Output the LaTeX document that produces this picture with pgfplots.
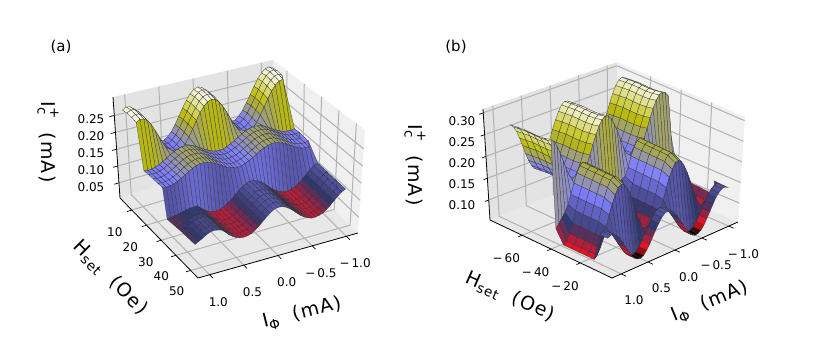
\documentclass[border=0pt]{standalone}
\usepackage{fontspec}
\setmainfont{DejaVu Sans}
\usepackage{pgfplots}
\usetikzlibrary{calc}
\pgfplotsset{compat=1.18}
\pgfplotsset{
 colormap={stern}{rgb=(0,0,0) rgb=(.457,.025,.05) rgb=(.914,.05,.1) rgb=(.9,.075,.15) rgb=(.774,.1,.2) rgb=(.649,.125,.25) rgb=(.525,.15,.3) rgb=(.4,.175,.35) rgb=(.276,.2,.4) rgb=(.151,.225,.45) rgb=(.25,.25,.5) rgb=(.275,.275,.55) rgb=(.3,.3,.6) rgb=(.325,.325,.65) rgb=(.35,.35,.7) rgb=(.375,.375,.75) rgb=(.4,.4,.8) rgb=(.425,.425,.85) rgb=(.45,.45,.9) rgb=(.475,.475,.95) rgb=(.5,.5,1) rgb=(.525,.525,.894) rgb=(.55,.55,.787) rgb=(.575,.575,.681) rgb=(.6,.6,.574) rgb=(.625,.625,.468) rgb=(.65,.65,.362) rgb=(.675,.675,.255) rgb=(.7,.7,.149) rgb=(.725,.725,.043) rgb=(.75,.75,.057) rgb=(.775,.775,.151) rgb=(.8,.8,.245) rgb=(.825,.825,.34) rgb=(.85,.85,.434) rgb=(.875,.875,.528) rgb=(.9,.9,.623) rgb=(.925,.925,.717) rgb=(.95,.95,.811) rgb=(.975,.975,.906) rgb=(1,1,1)},
 mpl/.style={
  anchor=south west, clip=false, colormap name=stern, scaled ticks=false,
  major tick length=0pt,
  axis line style={draw=none},
  tick label style={font=\fontsize{12}{13}\selectfont, anchor=center},
  xtick={-1,-.5,0,.5,1}, xticklabels={−\,1.0,−\,0.5,0.0,0.5,1.0},
 },
 srf/.style={surf, shader=faceted, z buffer=sort, line width=.25pt, faceted color=black!80, mesh/cols=41},
}
\newcommand{\lab}{\fontsize{19}{21}\selectfont\addfontfeature{LetterSpace=6}}
\newcommand{\sub}[1]{\raisebox{-4pt}{\fontsize{13.5}{14}\selectfont #1}}
\newcommand{\icp}{I\rlap{\raisebox{-4pt}{\fontsize{13.5}{14}\selectfont c}}\raisebox{8.5pt}{\fontsize{13.5}{14}\selectfont +}}
% panes, grid lines and tick strokes of one box, with a slight perspective
% #1 x fractions, #2 y fractions, #3 z fractions
\newcommand{\panes}[3]{%
 \fill[black!11] (L)--(B)--(TB)--(TL)--cycle;
 \fill[black!6] (B)--(R)--(TR)--(TB)--cycle;
 \fill[black!9] (L)--(F)--(R)--(B)--cycle;
 \foreach \f in {#1}{
  \coordinate (p) at ($(F)!\f!(R)$); \coordinate (q) at ($(L)!\f!(B)$); \coordinate (r) at ($(TL)!\f!(TB)$);
  \draw[black!30, line width=1pt] (p)--(q)--(r);
  \draw[black, line width=.7pt] (p)--($(p)!-.04!(q)$);}
 \foreach \f in {#2}{
  \coordinate (p) at ($(L)!\f!(F)$); \coordinate (q) at ($(B)!\f!(R)$); \coordinate (r) at ($(TB)!\f!(TR)$);
  \draw[black!30, line width=1pt] (p)--(q)--(r);
  \draw[black, line width=.7pt] (p)--($(p)!-.03!(q)$);}
 \foreach \f in {#3}{
  \coordinate (p) at ($(L)!\f!(TL)$); \coordinate (q) at ($(B)!\f!(TB)$); \coordinate (r) at ($(R)!\f!(TR)$);
  \draw[black!30, line width=1pt] (p)--(q)--(r);
  \draw[black, line width=.7pt] (p)--($(p)!-.03!(q)$);}
 \draw[black, line width=.8pt] (TL)--(L)--(F)--(R);
}
\begin{document}
\begin{tikzpicture}[x=1pt,y=1pt]
\path (0,0) rectangle (830,340);
\coordinate (L) at (120,142); \coordinate (F) at (198,62); \coordinate (R) at (358,107);
\coordinate (B) at (274,190); \coordinate (TL) at (113,243); \coordinate (TB) at (273,280); \coordinate (TR) at (365,210);
\panes{.0726,.286,.5,.714,.927}{.151,.34,.528,.717,.906}{.15,.317,.483,.65,.817}
\coordinate (L) at (490,120); \coordinate (F) at (612,62); \coordinate (R) at (738,118);
\coordinate (B) at (617,170); \coordinate (TL) at (483,231); \coordinate (TB) at (617,278); \coordinate (TR) at (745,223);
\panes{.0726,.286,.5,.714,.927}{.2625,.501,.74}{.18,.376,.573,.769,.965}
\begin{axis}[mpl, at={(116pt,62pt)},
 x={(-68.4pt,-19.2pt)}, y={(1.547pt,-1.453pt)}, z={(0pt,337pt)},
 xmin=-1.17,xmax=1.17,ymin=2,ymax=55,zmin=.005,zmax=.305,
 point meta min=.032, point meta max=.29,
 ytick={10,20,30,40,50}, yticklabels={10,20,30,40,50}, ztick={.05,.1,.15,.2,.25},
 zticklabels={0.05,0.10,0.15,0.20,0.25},
 xticklabel style={xshift=8.7pt,yshift=-27pt},
 yticklabel style={xshift=-13.5pt,yshift=-20pt},
 zticklabel style={xshift=-25pt,yshift=-1pt},
]
\addplot3[srf] table[x expr={-1.1+0.055*mod(\coordindex,41)}, y expr={3+3*floor(\coordindex/41)+2*(floor(\coordindex/41)>=4)+3*(floor(\coordindex/41)>=10)}, z=z] {
z
.275
.281
.279
.270
.256
.236
.215
.194
.175
.161
.152
.151
.158
.170
.188
.209
.231
.251
.267
.277
.281
.277
.267
.251
.231
.209
.188
.170
.158
.151
.152
.161
.175
.194
.215
.236
.256
.270
.279
.281
.275
.279
.285
.283
.274
.260
.240
.219
.198
.179
.165
.156
.155
.162
.174
.192
.213
.235
.255
.271
.281
.285
.281
.271
.255
.235
.213
.192
.174
.162
.155
.156
.165
.179
.198
.219
.240
.260
.274
.283
.285
.279
.279
.285
.283
.274
.260
.240
.219
.198
.179
.165
.156
.155
.162
.174
.192
.213
.235
.255
.271
.281
.285
.281
.271
.255
.235
.213
.192
.174
.162
.155
.156
.165
.179
.198
.219
.240
.260
.274
.283
.285
.279
.277
.283
.281
.272
.258
.238
.217
.196
.177
.163
.154
.153
.160
.172
.190
.211
.233
.253
.269
.279
.283
.279
.269
.253
.233
.211
.190
.172
.160
.153
.154
.163
.177
.196
.217
.238
.258
.272
.281
.283
.277
.155
.153
.154
.156
.161
.167
.174
.181
.187
.192
.195
.195
.193
.189
.183
.176
.169
.163
.158
.154
.153
.154
.158
.163
.169
.176
.183
.189
.193
.195
.195
.192
.187
.181
.174
.167
.161
.156
.154
.153
.155
.157
.155
.156
.158
.163
.169
.176
.183
.189
.194
.197
.197
.195
.191
.185
.178
.171
.165
.160
.156
.155
.156
.160
.165
.171
.178
.185
.191
.195
.197
.197
.194
.189
.183
.176
.169
.163
.158
.156
.155
.157
.157
.155
.156
.158
.163
.169
.176
.183
.189
.194
.197
.197
.195
.191
.185
.178
.171
.165
.160
.156
.155
.156
.160
.165
.171
.178
.185
.191
.195
.197
.197
.194
.189
.183
.176
.169
.163
.158
.156
.155
.157
.157
.155
.156
.158
.163
.169
.176
.183
.189
.194
.197
.197
.195
.191
.185
.178
.171
.165
.160
.156
.155
.156
.160
.165
.171
.178
.185
.191
.195
.197
.197
.194
.189
.183
.176
.169
.163
.158
.156
.155
.157
.157
.155
.156
.158
.163
.169
.176
.183
.189
.194
.197
.197
.195
.191
.185
.178
.171
.165
.160
.156
.155
.156
.160
.165
.171
.178
.185
.191
.195
.197
.197
.194
.189
.183
.176
.169
.163
.158
.156
.155
.157
.118
.113
.104
.094
.083
.074
.066
.062
.060
.060
.064
.070
.078
.088
.099
.108
.115
.119
.120
.117
.110
.101
.091
.080
.072
.065
.061
.060
.061
.065
.072
.080
.091
.090
.090
.088
.085
.082
.080
.078
.076
.118
.113
.104
.094
.083
.074
.066
.062
.060
.060
.064
.070
.078
.088
.099
.108
.115
.119
.120
.117
.110
.101
.091
.080
.072
.065
.061
.060
.061
.065
.072
.080
.091
.095
.097
.097
.094
.090
.086
.082
.078
.118
.113
.104
.094
.083
.074
.066
.062
.060
.060
.064
.070
.078
.088
.099
.108
.115
.119
.120
.117
.110
.101
.091
.080
.072
.065
.061
.060
.061
.065
.072
.080
.091
.100
.103
.105
.103
.098
.091
.085
.079
.118
.113
.104
.094
.083
.074
.066
.062
.060
.060
.064
.070
.078
.088
.099
.108
.115
.119
.120
.117
.110
.101
.091
.080
.072
.065
.061
.060
.061
.065
.072
.080
.091
.100
.103
.105
.103
.098
.091
.085
.079
.118
.113
.104
.094
.083
.074
.066
.062
.060
.060
.064
.070
.078
.088
.099
.108
.115
.119
.120
.117
.110
.101
.091
.080
.072
.065
.061
.060
.061
.065
.072
.080
.091
.100
.103
.105
.103
.098
.091
.085
.079
.118
.113
.104
.094
.083
.074
.066
.062
.060
.060
.064
.070
.078
.088
.099
.108
.115
.119
.120
.117
.110
.101
.091
.080
.072
.065
.061
.060
.061
.065
.072
.080
.091
.100
.103
.105
.103
.098
.091
.085
.079
};
\end{axis}
\begin{axis}[mpl, at={(489pt,62pt)},
 x={(-54.7pt,-23.08pt)}, y={(1.468pt,-.692pt)}, z={(0pt,423pt)},
 xmin=-1.17,xmax=1.17,ymin=-82,ymax=1.8,zmin=.054,zmax=.309,
 point meta min=.055, point meta max=.31,
 ytick={-60,-40,-20}, yticklabels={−\,60,−\,40,−\,20}, ztick={.1,.15,.2,.25,.3},
 zticklabels={0.10,0.15,0.20,0.25,0.30},
 xticklabel style={xshift=12.7pt,yshift=-26pt},
 yticklabel style={xshift=-15pt,yshift=-23pt},
 zticklabel style={xshift=-27pt,yshift=-5pt},
]
\addplot3[srf] table[x expr={-1.1+0.055*mod(\coordindex,41)}, y expr={-70+4.6*floor(\coordindex/41)+(floor(\coordindex/41)>=7)*(-1.2+0.6*(floor(\coordindex/41)-7))-1.2*(floor(\coordindex/41)>=13)}, z=z] {
z
.264
.281
.292
.296
.293
.283
.267
.248
.226
.205
.187
.174
.167
.167
.175
.188
.207
.228
.250
.269
.284
.294
.296
.291
.279
.262
.242
.220
.200
.183
.171
.166
.168
.178
.193
.212
.234
.255
.274
.287
.295
.266
.283
.294
.298
.295
.285
.269
.250
.228
.207
.189
.176
.169
.169
.177
.190
.209
.230
.252
.271
.286
.296
.298
.293
.281
.264
.244
.222
.202
.185
.173
.168
.170
.180
.195
.214
.236
.257
.276
.289
.297
.268
.285
.296
.300
.297
.287
.271
.252
.230
.209
.191
.178
.171
.171
.179
.192
.211
.232
.254
.273
.288
.298
.300
.295
.283
.266
.246
.224
.204
.187
.175
.170
.172
.182
.197
.216
.238
.259
.278
.291
.299
.268
.285
.296
.300
.297
.287
.271
.252
.230
.209
.191
.178
.171
.171
.179
.192
.211
.232
.254
.273
.288
.298
.300
.295
.283
.266
.246
.224
.204
.187
.175
.170
.172
.182
.197
.216
.238
.259
.278
.291
.299
.268
.285
.296
.300
.297
.287
.271
.252
.230
.209
.191
.178
.171
.171
.179
.192
.211
.232
.254
.273
.288
.298
.300
.295
.283
.266
.246
.224
.204
.187
.175
.170
.172
.182
.197
.216
.238
.259
.278
.291
.299
.270
.287
.298
.302
.299
.289
.273
.254
.232
.211
.193
.180
.173
.173
.181
.194
.213
.234
.256
.275
.290
.300
.302
.297
.285
.268
.248
.226
.206
.189
.177
.172
.174
.184
.199
.218
.240
.261
.280
.293
.301
.274
.291
.302
.306
.303
.293
.277
.258
.236
.215
.197
.184
.177
.177
.185
.198
.217
.238
.260
.279
.294
.304
.306
.301
.289
.272
.252
.230
.210
.193
.181
.176
.178
.188
.203
.222
.244
.265
.284
.297
.305
.130
.130
.130
.130
.135
.140
.145
.150
.164
.189
.210
.224
.230
.227
.215
.197
.173
.155
.150
.150
.150
.150
.150
.150
.150
.150
.155
.171
.195
.214
.226
.230
.225
.211
.190
.166
.145
.130
.120
.110
.100
.104
.085
.073
.070
.076
.091
.112
.137
.164
.189
.210
.224
.230
.227
.215
.197
.173
.146
.120
.097
.080
.071
.071
.080
.096
.118
.144
.171
.195
.214
.226
.230
.225
.211
.190
.166
.139
.113
.092
.077
.070
.104
.085
.073
.070
.076
.091
.112
.137
.164
.189
.210
.224
.230
.227
.215
.197
.173
.146
.120
.097
.080
.071
.071
.080
.096
.118
.144
.171
.195
.214
.226
.230
.225
.211
.190
.166
.139
.113
.092
.077
.070
.104
.085
.073
.070
.076
.091
.112
.137
.164
.189
.210
.224
.230
.227
.215
.197
.173
.146
.120
.097
.080
.071
.071
.080
.096
.118
.144
.171
.195
.214
.226
.230
.225
.211
.190
.166
.139
.113
.092
.077
.070
.104
.085
.073
.070
.076
.091
.112
.137
.164
.189
.210
.224
.230
.227
.215
.197
.173
.146
.120
.097
.080
.071
.071
.080
.096
.118
.144
.171
.195
.214
.226
.230
.225
.211
.190
.166
.139
.113
.092
.077
.070
.102
.085
.073
.070
.076
.090
.110
.133
.158
.181
.200
.214
.220
.217
.205
.189
.167
.142
.118
.096
.080
.071
.071
.080
.095
.116
.140
.165
.187
.204
.216
.220
.215
.201
.182
.160
.135
.111
.091
.077
.070
.135
.139
.138
.132
.123
.110
.096
.083
.070
.061
.056
.055
.059
.068
.079
.093
.107
.119
.130
.137
.139
.137
.130
.119
.107
.093
.079
.068
.059
.055
.056
.061
.070
.083
.096
.110
.123
.132
.138
.139
.135
.135
.139
.138
.132
.123
.110
.096
.083
.070
.061
.056
.055
.059
.068
.079
.093
.107
.119
.130
.137
.139
.137
.130
.119
.107
.093
.079
.068
.059
.055
.056
.061
.070
.083
.096
.110
.123
.132
.138
.139
.135
};
\end{axis}
\node[font=\fontsize{15}{16}\selectfont] at (61,293) {(a)};
\node[font=\fontsize{15}{16}\selectfont] at (456,293) {(b)};
\node[font=\lab, rotate=-90] at (48,198) {\icp\ \ (mA)};
\node[font=\lab, rotate=-90] at (415,175) {\icp\ \ (mA)};
\node[font=\lab, rotate=-45] at (110,62) {H\sub{set}\ \ (Oe)};
\node[font=\lab, rotate=-24] at (510,43) {H\sub{set}\ \ (Oe)};
\node[font=\lab, rotate=14] at (302,27) {I\sub{Φ}\ \ (mA)};
\node[font=\lab, rotate=22] at (710,38) {I\sub{Φ}\ \ (mA)};
\end{tikzpicture}
\end{document}
